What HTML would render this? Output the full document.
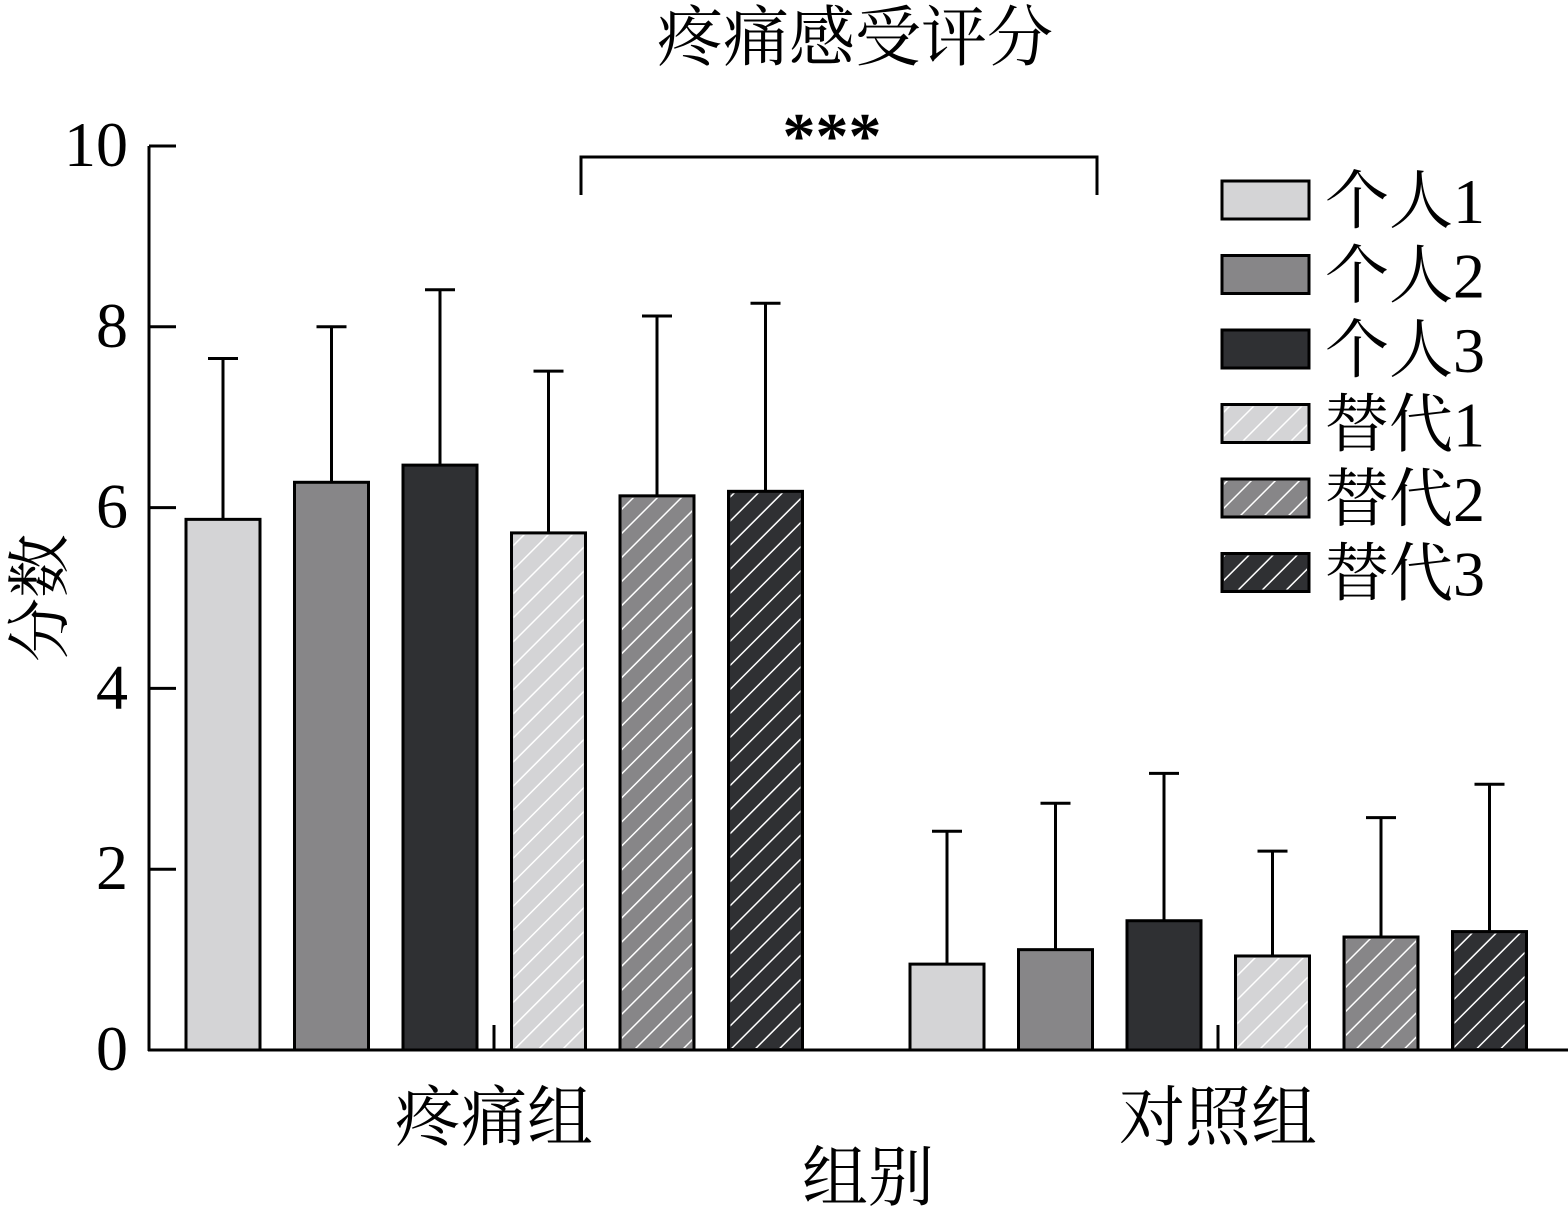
<!DOCTYPE html>
<html><head><meta charset="utf-8"><style>
body{margin:0;background:#fff}
svg text{font-family:"Liberation Serif","Noto Serif CJK SC",serif;fill:#000}
</style></head><body>
<svg id="chart" width="1568" height="1208" viewBox="0 0 1568 1208" xmlns="http://www.w3.org/2000/svg">
<defs>
<pattern id="hatch" patternUnits="userSpaceOnUse" width="17" height="17" patternTransform="rotate(45)">
<line x1="0" y1="0" x2="0" y2="17" stroke="#fff" stroke-width="3"/>
</pattern>
</defs>
<g id="plot"></g>
</svg>
<script>
const groups = ["疼痛组", "对照组"];
const seriesNames = ["个人1", "个人2", "个人3", "替代1", "替代2", "替代3"];
const means1 = [5.87, 6.28, 6.47, 5.72, 6.13, 6.18];
const errs1 = [7.65, 8.0, 8.41, 7.51, 8.12, 8.26];
const means2 = [0.95, 1.11, 1.43, 1.04, 1.25, 1.31];
const errs2 = [2.42, 2.73, 3.06, 2.2, 2.57, 2.94];
const yTicks = [0, 2, 4, 6, 8, 10];

const fills = ["#d4d4d6", "#878688", "#2f3033", "#d4d4d6", "#878688", "#2f3033"];
const hatched = [false, false, false, true, true, true];
const NS = "http://www.w3.org/2000/svg";
const g = document.getElementById("plot");
const y = v => 1050 - v * 90.4;
const groupCenter = [494, 1218];
const barX = (gi, si) => groupCenter[gi] - 308 + si * 108.5;
const BW = 74;
function el(tag, attrs, text) {
  const e = document.createElementNS(NS, tag);
  for (const k in attrs) e.setAttribute(k, attrs[k]);
  if (text !== undefined) e.textContent = text;
  g.appendChild(e);
  return e;
}
let t = el("text", {x: 855, y: 60, "font-size": 66, "text-anchor": "middle"}, "疼痛感受评分");


let ax = el("line", {x1: 149, y1: 146, x2: 149, y2: 1051, stroke: "#000", "stroke-width": 3});


let ax2 = el("line", {x1: 148, y1: 1050, x2: 1568, y2: 1050, stroke: "#000", "stroke-width": 3});


yTicks.forEach(v => {
  const tk = el("line", {x1: 149, y1: y(v), x2: 176, y2: y(v), stroke: "#000", "stroke-width": 3});
  
  
  const tl = el("text", {x: 128, y: y(v) + 20, "font-size": 64, "text-anchor": "end"}, String(v));
  
  
});
let yt = el("text", {x: 0, y: 0, "font-size": 64, "text-anchor": "middle", transform: "translate(62,598) rotate(-90)"}, "分数");


groups.forEach((name, gi) => {
  const tk = el("line", {x1: groupCenter[gi], y1: 1025, x2: groupCenter[gi], y2: 1050, stroke: "#000", "stroke-width": 3});
  
  
  const tl = el("text", {x: groupCenter[gi], y: 1140, "font-size": 66, "text-anchor": "middle"}, name);
  
  
});
let xt = el("text", {x: 868, y: 1200, "font-size": 66, "text-anchor": "middle"}, "组别");


[[means1, errs1], [means2, errs2]].forEach(([m, e], gi) => {
  m.forEach((v, si) => {
    const x0 = barX(gi, si);
    const cx = x0 + BW / 2;
    const eb = el("line", {x1: cx, y1: y(e[si]), x2: cx, y2: y(v), stroke: "#000", "stroke-width": 3});
    
    
    const cap = el("line", {x1: cx - 15, y1: y(e[si]), x2: cx + 15, y2: y(e[si]), stroke: "#000", "stroke-width": 3});
    
    
    const r = el("rect", {x: x0, y: y(v), width: BW, height: y(0) - y(v), fill: fills[si], stroke: "#000", "stroke-width": 3});
    
    
    if (hatched[si]) {
      const h = el("rect", {x: x0 + 2, y: y(v) + 2, width: BW - 4, height: y(0) - y(v) - 4, fill: "url(#hatch)"});
      
      
    }
  });
});
let br = el("path", {d: "M581 195 V157 H1097 V195", fill: "none", stroke: "#000", "stroke-width": 3});


let st = el("text", {x: 832, y: 158, "font-size": 66, "text-anchor": "middle", "font-weight": "bold"}, "***");


seriesNames.forEach((n, i) => {
  const ly = 181 + i * 74.5;
  const b = el("rect", {x: 1222, y: ly, width: 87, height: 38, fill: fills[i], stroke: "#000", "stroke-width": 3});
  
  
  if (hatched[i]) {
    const h = el("rect", {x: 1224, y: ly + 2, width: 83, height: 34, fill: "url(#hatch)"});
    
    
  }
  const lt = el("text", {x: 1325, y: ly + 42, "font-size": 64}, n);
  
  
});
</script>
</body></html>
